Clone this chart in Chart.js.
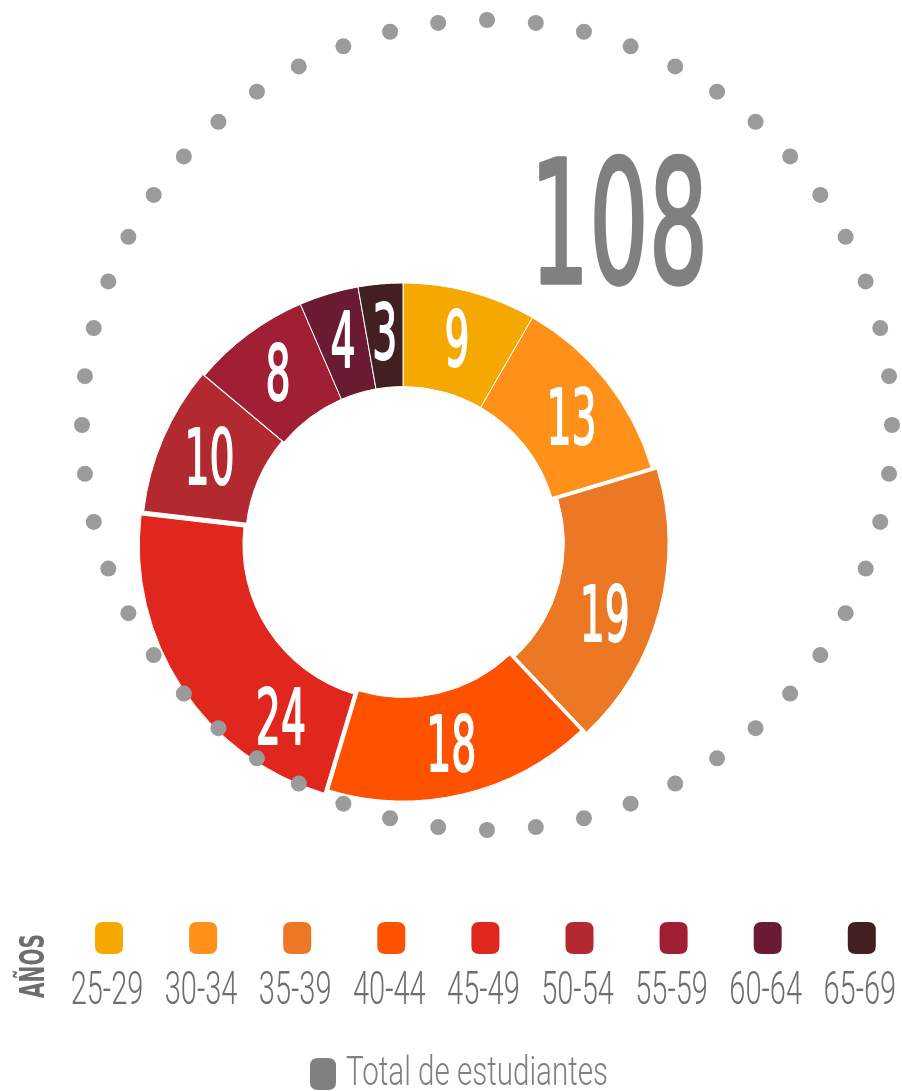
<!DOCTYPE html>
<html lang="es">
<head>
<meta charset="utf-8">
<title>Estudiantes por edad</title>
<script src="https://cdn.jsdelivr.net/npm/chart.js@4.4.1/dist/chart.umd.min.js"></script>
<style>
  html, body { margin: 0; padding: 0; background: #fff; }
  #wrap { position: relative; width: 902px; height: 1091px; }
</style>
</head>
<body>
<div id="wrap"><canvas id="edadChart"></canvas></div>
<script>
(function () {
  'use strict';
  if (typeof Chart === 'undefined') return;

  // data
  var ageGroups = ['25-29', '30-34', '35-39', '40-44', '45-49', '50-54', '55-59', '60-64', '65-69'];
  var students = [9, 13, 19, 18, 24, 10, 8, 4, 3];
  var axisTitle = 'AÑOS';
  var totalLabel = 'Total de estudiantes';

  // styles
  var colors = ['#f5a800', '#ff9019', '#ec7724', '#ff5200', '#e0271d', '#b22a2f', '#a11f35', '#6a1b31', '#421f21'];
  var offsets = [0, 0, 22, 0, 22, 6, 0, 0, 0];
  var labelNudgeDeg = [0, 2, 5, 0, -22, 0, 0, 0, 0];
  var grey = '#808080';
  var textGrey = '#6e6e6e';
  var dotGrey = '#9b9b9b';
  var NARROW = "'Liberation Sans Narrow', 'DejaVu Sans Condensed', 'Liberation Sans', sans-serif";
  var LIGHT = "Roboto, 'Liberation Sans Narrow', sans-serif";

  var total = students.reduce(function (a, b) { return a + b; }, 0);

  function squeezeText(ctx, text, x, y, o) {
    ctx.save();
    ctx.font = (o.weight || 'normal') + ' ' + o.size + 'px ' + o.family;
    var sx = o.width ? o.width / ctx.measureText(text).width
                     : o.digit * o.size / ctx.measureText('0').width;
    ctx.translate(x, y);
    if (o.rotate) ctx.rotate(o.rotate);
    ctx.scale(sx, 1);
    ctx.fillStyle = o.color;
    ctx.textAlign = o.align || 'center';
    ctx.textBaseline = 'middle';
    ctx.fillText(text, 0, 0);
    if (o.stroke) {
      ctx.strokeStyle = o.color;
      ctx.lineWidth = o.stroke;
      ctx.lineJoin = 'round';
      ctx.strokeText(text, 0, 0);
    }
    ctx.restore();
  }

  function roundBox(ctx, cx, cy, w, h, r, color) {
    var x = cx - w / 2, y = cy - h / 2;
    ctx.beginPath();
    ctx.moveTo(x + r, y);
    ctx.lineTo(x + w - r, y);
    ctx.quadraticCurveTo(x + w, y, x + w, y + r);
    ctx.lineTo(x + w, y + h - r);
    ctx.quadraticCurveTo(x + w, y + h, x + w - r, y + h);
    ctx.lineTo(x + r, y + h);
    ctx.quadraticCurveTo(x, y + h, x, y + h - r);
    ctx.lineTo(x, y + r);
    ctx.quadraticCurveTo(x, y, x + r, y);
    ctx.closePath();
    ctx.fillStyle = color;
    ctx.fill();
  }

  var decor = {
    id: 'decor',
    afterDatasetsDraw: function (chart) {
      var ctx = chart.ctx;
      var i;

      // dotted ring
      ctx.save();
      ctx.fillStyle = dotGrey;
      for (i = 0; i < 52; i++) {
        var a = i / 52 * Math.PI * 2;
        ctx.beginPath();
        ctx.arc(487 + 405 * Math.sin(a), 425 - 405 * Math.cos(a), 8, 0, Math.PI * 2);
        ctx.fill();
      }
      ctx.restore();

      // values on the segments
      var meta = chart.getDatasetMeta(0);
      meta.data.forEach(function (arc, idx) {
        var p = arc.getProps(['x', 'y', 'startAngle', 'endAngle', 'innerRadius', 'outerRadius']);
        var mid = (p.startAngle + p.endAngle) / 2 + labelNudgeDeg[idx] * Math.PI / 180;
        var r = (p.innerRadius + p.outerRadius) / 2 + 2 + offsets[idx] / 4;
        squeezeText(ctx, String(students[idx]), p.x + Math.cos(mid) * r, p.y + Math.sin(mid) * r + 6,
          { size: 76, family: NARROW, weight: 'normal', digit: 0.33, color: '#fff', stroke: 1.8 });
      });

      // big total
      squeezeText(ctx, String(total), 530, 238, { size: 172, family: NARROW, weight: 'normal', width: 178, color: grey, align: 'left', stroke: 3.5 });

      // legend
      squeezeText(ctx, axisTitle, 35, 966, { size: 34, family: NARROW, weight: 'bold', width: 64, color: textGrey, rotate: -Math.PI / 2 });
      for (i = 0; i < ageGroups.length; i++) {
        var lx = 109 + i * 94.1;
        roundBox(ctx, lx, 938, 28, 32, 8, colors[i]);
        squeezeText(ctx, ageGroups[i], lx - 2, 992, { size: 46, family: LIGHT, weight: '300', digit: 0.35, color: textGrey });
      }
      roundBox(ctx, 323, 1074, 26, 32, 8, grey);
      squeezeText(ctx, totalLabel, 346, 1075, { size: 40, family: LIGHT, weight: '300', width: 262, color: grey, align: 'left' });
    }
  };

  new Chart(document.getElementById('edadChart'), {
    type: 'doughnut',
    data: {
      labels: ageGroups,
      datasets: [{
        data: students,
        backgroundColor: colors,
        borderColor: '#fff',
        borderWidth: 1,
        offset: offsets,
        hoverOffset: 0
      }]
    },
    options: {
      responsive: true,
      maintainAspectRatio: false,
      animation: false,
      events: [],
      cutout: '60%',
      layout: { padding: { left: 132.5, right: 228.5, top: 271.5, bottom: 278.5 } },
      plugins: {
        legend: { display: false },
        tooltip: { enabled: false }
      }
    },
    plugins: [decor]
  });
})();
</script>
</body>
</html>
